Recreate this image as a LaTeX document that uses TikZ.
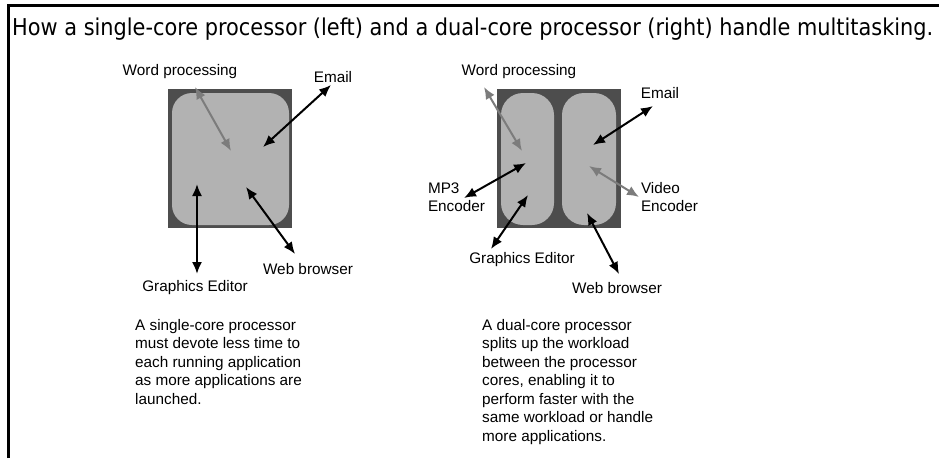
\documentclass[tikz,border=0pt]{standalone}
\usepackage{fontspec}
\setmainfont{Liberation Sans}
\newfontfamily\titlefont{DejaVu Sans Condensed}
\usetikzlibrary{arrows.meta}
\definecolor{chipdark}{HTML}{4D4D4D}
\definecolor{corelight}{HTML}{B2B2B2}
\definecolor{graylink}{HTML}{7C7C7C}
\tikzset{
  chip/.style={fill=chipdark, draw=none, inner sep=0pt, outer sep=0pt},
  core/.style={fill=corelight, draw=none, inner sep=0pt, outer sep=0pt},
  lbl/.style={font=\fontsize{15.3}{18.4}\selectfont, inner sep=0pt, outer sep=0pt},
  desc/.style={font=\fontsize{15.3}{18.5}\selectfont, align=left, inner sep=0pt, anchor=north west},
  link/.style={line width=2pt, {Latex[length=12pt,width=10pt]}-{Latex[length=12pt,width=10pt]}},
  glink/.style={link, draw=graylink, color=graylink},
}
\begin{document}
\begin{tikzpicture}[x=1pt,y=-1pt]
\useasboundingbox (0,0) rectangle (939,458);
\fill[white] (0,0) rectangle (939,458);
% frame
\coordinate (ftl) at (8.5,5);
\coordinate (ftr) at (939,5);
\coordinate (fbl) at (8.5,458);
\draw[line width=3pt] (fbl) -- (ftl) -- (ftr);
% title
\node[anchor=west, inner sep=0pt] (title) at (12,29) {\resizebox{921pt}{!}{\titlefont How a single-core processor (left) and a dual-core processor (right) handle multitasking.}};

% ---------- single core ----------
\node[chip, minimum width=124pt, minimum height=139pt] (sq) at (229.5,158.5) {};
\node[core, rounded corners=20pt, minimum width=117pt, minimum height=132pt] (sc) at (230.5,159) {};

\node[lbl] (swp) at (180,72) {Word processing};
\node[lbl] (sem) at (333,77) {Email};
\node[lbl] (sge) at (195,288) {Graphics Editor};
\node[lbl] (swb) at (308,269) {Web browser};

\coordinate (swpA) at (195,87);
\coordinate (swpB) at (231,151);
\coordinate (semA) at (331,85);
\coordinate (semB) at (263,147);
\coordinate (sgeA) at (197,184);
\coordinate (sgeB) at (197,274);
\coordinate (swbA) at (246,187);
\coordinate (swbB) at (295,254);

\draw[glink] (swpA) -- (swpB);
\draw[link] (semA) -- (semB);
\draw[link] (sgeA) -- (sgeB);
\draw[link] (swbA) -- (swbB);

% ---------- dual core ----------
\node[chip, minimum width=124pt, minimum height=139pt] (dq) at (558.5,158.5) {};
\node[core, rounded corners=22pt, minimum width=53pt, minimum height=132pt] (dc1) at (527.5,159) {};
\node[core, rounded corners=22pt, minimum width=54pt, minimum height=132pt] (dc2) at (589,159) {};

\node[lbl] (dwp) at (519,72) {Word processing};
\node[lbl] (dem) at (660,93) {Email};
\node[lbl, anchor=west, align=left] (dmp) at (428,197) {MP3\\Encoder};
\node[lbl, anchor=west, align=left] (dve) at (641,197) {Video\\Encoder};
\node[lbl] (dge) at (522,260) {Graphics Editor};
\node[lbl] (dwb) at (617,288) {Web browser};

\coordinate (dwpA) at (484,87);
\coordinate (dwpB) at (522,151);
\coordinate (demA) at (653,106);
\coordinate (demB) at (593,145);
\coordinate (dmpA) at (526,163);
\coordinate (dmpB) at (464,198);
\coordinate (dveA) at (589,166);
\coordinate (dveB) at (639,197);
\coordinate (dgeA) at (528,195);
\coordinate (dgeB) at (491,249);
\coordinate (dwbA) at (587,213);
\coordinate (dwbB) at (619,274);

\draw[glink] (dwpA) -- (dwpB);
\draw[link] (demA) -- (demB);
\draw[link] (dmpA) -- (dmpB);
\draw[glink] (dveA) -- (dveB);
\draw[link] (dgeA) -- (dgeB);
\draw[link] (dwbA) -- (dwbB);

% ---------- descriptions ----------
\node[desc] (sdesc) at (135,319) {A single-core processor\\must devote less time to\\each running application\\as more applications are\\launched.};
\node[desc] (ddesc) at (482,319) {A dual-core processor\\splits up the workload\\between the processor\\cores, enabling it to\\perform faster with the\\same workload or handle\\more applications.};
\end{tikzpicture}
\end{document}
